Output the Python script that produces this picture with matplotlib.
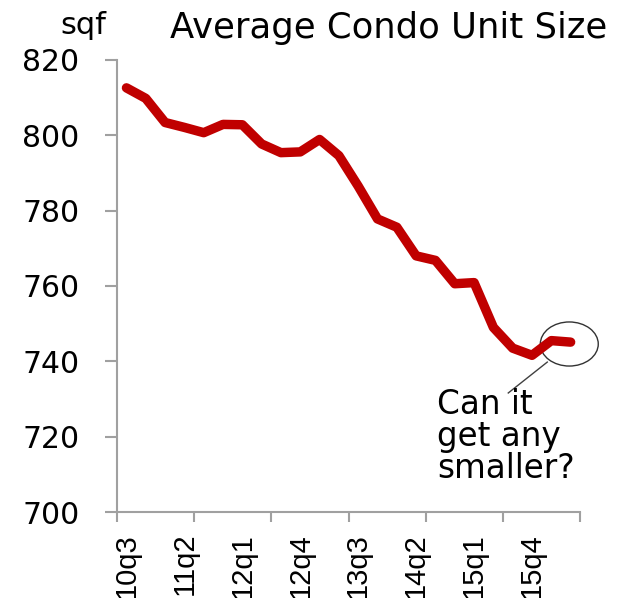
import numpy as np
import matplotlib.pyplot as plt
from matplotlib.patches import Ellipse

# quarterly average condo unit size, 10q3 .. 16q2
quarters = ['10q3', '10q4', '11q1', '11q2', '11q3', '11q4', '12q1', '12q2',
            '12q3', '12q4', '13q1', '13q2', '13q3', '13q4', '14q1', '14q2',
            '14q3', '14q4', '15q1', '15q2', '15q3', '15q4', '16q1', '16q2']
unit_size = [812.6, 809.8, 803.4, 802.1, 800.7, 802.9, 802.8, 797.7,
             795.4, 795.6, 798.9, 794.6, 786.5, 777.8, 775.6, 768.0,
             766.8, 760.6, 760.9, 749.0, 743.5, 741.6, 745.5, 745.1]
label_every = 3
tick_every = 4

x = np.arange(len(quarters))
red = '#C00000'
axis_grey = '#A0A0A0'

fig = plt.figure(figsize=(6.18, 5.98), dpi=100)
ax = fig.add_axes([0.189, 0.1438, 0.750, 0.7559])

ax.plot(x, unit_size, color=red, lw=6.8, solid_joinstyle='round',
        solid_capstyle='round')

ax.set_xlim(-0.5, len(quarters) - 0.5)
ax.set_ylim(700, 820)
ax.set_yticks(np.arange(700, 821, 20))

# tick marks sit on category boundaries, labels on the categories
ax.set_xticks(np.arange(-0.5, len(quarters), tick_every))
ax.set_xticklabels([])
ax.set_xticks(x[::label_every], minor=True)
ax.set_xticklabels(quarters[::label_every], minor=True, rotation=90,
                   fontsize=21, family='Liberation Sans')
ax.tick_params(axis='x', which='major', length=7, width=1.5, color=axis_grey)
ax.tick_params(axis='x', which='minor', length=0, pad=15)
ax.tick_params(axis='y', length=9, width=1.5, color=axis_grey, pad=18,
               labelsize=21.5)

for side in ['top', 'right']:
    ax.spines[side].set_visible(False)
for side in ['left', 'bottom']:
    ax.spines[side].set_color(axis_grey)
    ax.spines[side].set_linewidth(1.5)

fig.text(0.135, 0.943, 'sqf', fontsize=22, ha='center', va='baseline')
fig.text(0.275, 0.936, 'Average Condo Unit Size', fontsize=25.5,
         ha='left', va='baseline')

ax.add_patch(Ellipse((22.93, 744.6), 3.0, 11.7, fill=False,
                     edgecolor='#333333', lw=1.0, clip_on=False))
ax.plot([21.79, 19.77], [739.8, 731.6], color='#404040', lw=1.0)
ax.text(16.1, 732.8, 'Can it\nget any\nsmaller?', fontsize=23.5,
        ha='left', va='top', linespacing=0.95)

fig.savefig('out.png', dpi=100)
